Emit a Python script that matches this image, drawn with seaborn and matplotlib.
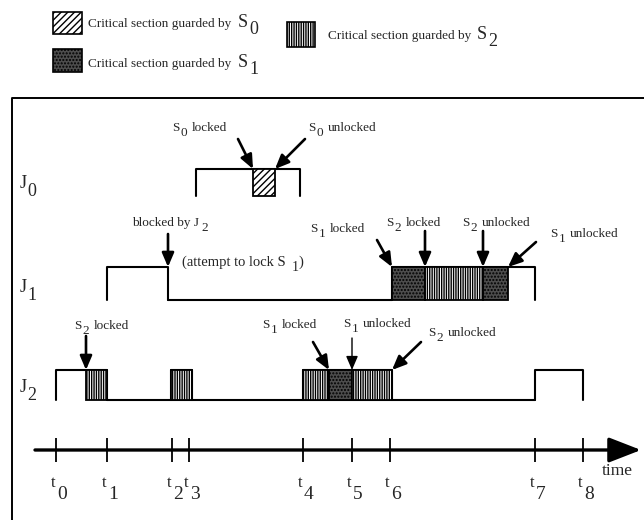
import matplotlib
matplotlib.use("Agg")
import matplotlib.pyplot as plt
import seaborn as sns
import pandas as pd

# ------------------------
# Data (time units)
# ------------------------
tick_names = ["0", "1", "2", "3", "4", "5", "6", "7", "8"]
tick_times = [0.0, 1.02, 2.32, 2.66, 4.94, 5.92, 6.68, 9.58, 10.54]
t = tick_times

jobs = ["J0", "J1", "J2"]

# running intervals (job is executing)
j0_runs = [(2.80, 4.88)]
j1_runs = [(t[1], 2.24), (6.72, 9.58)]
j2_runs = [(t[0], t[1]), (2.30, 2.72), (t[4], 6.72), (t[7], t[8])]

# waiting intervals (released but not running)
j0_wait = []
j1_wait = [(2.24, 6.72)]
j2_wait = [(t[1], t[7])]

# critical sections (start, end, semaphore)
j0_cs = [(3.94, 4.38, "S0")]
j1_cs = [(6.72, 7.38, "S1"), (7.38, 8.54, "S2"), (8.54, 9.04, "S1")]
j2_cs = [(0.60, t[1], "S2"), (2.30, 2.72, "S2"), (t[4], 5.46, "S2"),
         (5.46, t[5], "S1"), (t[5], 6.72, "S2")]

# ------------------------
# Style / layout
# ------------------------
sns.set_style("white")
plt.rcParams["font.family"] = ["Liberation Serif", "DejaVu Serif"]
plt.rcParams["hatch.linewidth"] = 1.0

W, H = 644, 520
X0, SCALE = 56, 50  # pixel of t=0, pixels per time unit


def px(x):
    return (x - X0) / SCALE


rows = {"J0": (196, 169), "J1": (300, 267), "J2": (400, 370)}  # base, top
styles = {
    "S0": dict(facecolor="white", hatch="/////"),
    "S1": dict(facecolor="#4d4d4d", hatch="....."),
    "S2": dict(facecolor="white", hatch="|||||||"),
}
runs = {"J0": j0_runs, "J1": j1_runs, "J2": j2_runs}
waits = {"J0": j0_wait, "J1": j1_wait, "J2": j2_wait}
sections = {"J0": j0_cs, "J1": j1_cs, "J2": j2_cs}
glyph_w = {"S": 0.556, "J": 0.40, "t": 0.30}

fig = plt.figure(figsize=(W / 100, H / 100), dpi=100)
ax = fig.add_axes([0, 0, 1, 1])
ax.set_xlim(px(0), px(W))
ax.set_ylim(H, 0)


def sublabel(x, y, base, sub, rest="", size=9.5, sub_size=None, drop=5, gap=1.5):
    # letter with a lowered index, like the hand-set labels of the scan
    sub_size = sub_size or size
    em = size * 100 / 72
    ax.text(px(x), y, base, fontsize=size, ha="left", va="baseline")
    xs = x + glyph_w[base] * em + gap
    ax.text(px(xs), y + drop, sub, fontsize=sub_size, ha="left", va="baseline")
    if rest:
        xr = xs + 0.5 * sub_size * 100 / 72 + 0.3 * em
        ax.text(px(xr), y, rest, fontsize=size, ha="left", va="baseline")


# ------------------------
# Job traces
# ------------------------
pts = []
seg = 0
for j in jobs:
    base, top = rows[j]
    for s, e in runs[j]:
        for x, y in [(s, base), (s, top), (e, top), (e, base)]:
            pts.append(dict(x=x, y=y, seg=seg))
        seg += 1
    for s, e in waits[j]:
        for x in [s, e]:
            pts.append(dict(x=x, y=base, seg=seg))
        seg += 1
df = pd.DataFrame(pts)
sns.lineplot(data=df, x="x", y="y", units="seg", estimator=None, sort=False,
             color="black", lw=1.5, ax=ax, legend=False)

for j in jobs:
    base, top = rows[j]
    for s, e, sem in sections[j]:
        ax.bar(s, top - base, width=e - s, bottom=base, align="edge",
               edgecolor="black", lw=1.3, zorder=3, **styles[sem])

# job labels
for j in jobs:
    base, top = rows[j]
    sublabel(20, base - 8, "J", j[1], size=13, drop=8, gap=0.5)

# ------------------------
# Time axis
# ------------------------
AXY = 450
ax.annotate("", xy=(px(641), AXY), xytext=(px(35), AXY),
            arrowprops=dict(arrowstyle="-|>,head_length=0.9,head_width=0.35",
                            lw=2.4, color="black", mutation_scale=22,
                            shrinkA=0, shrinkB=0))
ax.vlines(tick_times, AXY - 12, AXY + 12, color="black", lw=1.3)
for tt, name in zip(tick_times, tick_names):
    sublabel(tt * SCALE + X0 - 5, 487, "t", name, size=12, sub_size=14,
             drop=12, gap=1)
ax.text(px(602), 475, "time", fontsize=12.5, ha="left", va="baseline")

# ------------------------
# Annotations
# ------------------------
arrow = dict(arrowstyle="-|>,head_length=0.7,head_width=0.3", lw=1.9,
             color="black", shrinkA=0, shrinkB=0, mutation_scale=12)
thin = dict(arrow, lw=1.0)

events = [
    # (x, y, dx, dy, props)
    (3.94, 169, -15, 30, arrow),
    (4.38, 169, 30, 30, arrow),
    (2.24, 267, 0, 33, arrow),
    (6.72, 267, -15, 27, arrow),
    (7.38, 267, 0, 36, arrow),
    (8.54, 267, 0, 36, arrow),
    (9.04, 267, 28, 25, arrow),
    (0.60, 370, 0, 34, arrow),
    (5.46, 370, -16, 28, arrow),
    (t[5], 370, 0, 32, thin),
    (6.72, 370, 29, 28, arrow),
]
for x, y, dx, dy, props in events:
    ax.annotate("", xy=(x, y), xytext=(dx, dy), textcoords="offset pixels",
                arrowprops=props)

labels = [
    (172, 131, "0", "locked"),
    (308, 131, "0", "unlocked"),
    (310, 232, "1", "locked"),
    (386, 226, "2", "locked"),
    (462, 226, "2", "unlocked"),
    (550, 237, "1", "unlocked"),
    (74, 329, "2", "locked"),
    (262, 328, "1", "locked"),
    (343, 327, "1", "unlocked"),
    (428, 336, "2", "unlocked"),
]
for x, y, sub, rest in labels:
    sublabel(x, y, "S", sub, rest)

ax.text(px(132), 226, "blocked by J", fontsize=9.5, ha="left", va="baseline")
ax.text(px(201), 231, "2", fontsize=9.5, ha="left", va="baseline")
ax.text(px(182), 266, "(attempt to lock S", fontsize=10.5, ha="left",
        va="baseline")
ax.text(px(292), 271, "1", fontsize=10, ha="left", va="baseline")
ax.text(px(298), 266, ")", fontsize=10.5, ha="left", va="baseline")

# ------------------------
# Frame and legend
# ------------------------
ax.plot([px(12), px(12), px(W)], [H, 98, 98], color="black", lw=1.4)

legend = [
    # sem, swatch x, y, w, h, text x, S x, text baseline
    ("S0", 53, 12, 29, 22, 88, 238, 27),
    ("S1", 53, 49, 29, 23, 88, 238, 67),
    ("S2", 287, 22, 28, 25, 328, 477, 39),
]
for sem, lx, ly, lw_, lh, tx, sx, ty in legend:
    ax.bar(px(lx), lh, width=lw_ / SCALE, bottom=ly, align="edge",
           edgecolor="black", lw=1.2, **styles[sem])
    ax.text(px(tx), ty, "Critical section guarded by", fontsize=9.5,
            ha="left", va="baseline")
    sublabel(sx, ty, "S", sem[1], size=13, drop=7, gap=1)

ax.set_xlabel("")
ax.set_ylabel("")
ax.axis("off")
fig.savefig("out.png", dpi=100)
